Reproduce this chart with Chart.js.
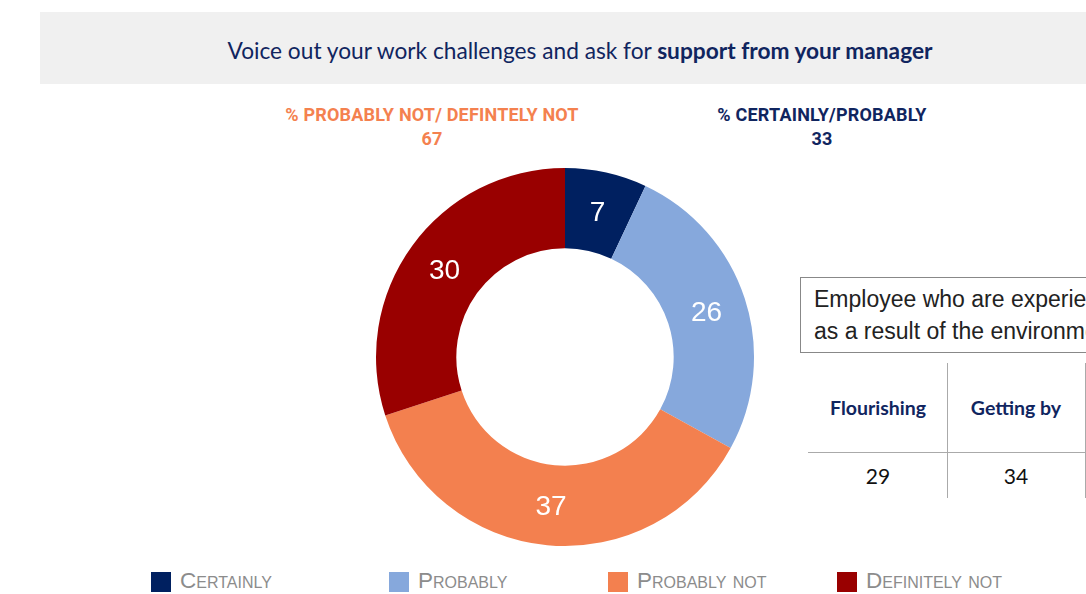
<!DOCTYPE html>
<html>
<head>
<meta charset="utf-8">
<script src="https://cdn.jsdelivr.net/npm/chart.js@4"></script>
<style>
  body { margin: 0; width: 1086px; height: 594px; position: relative; overflow: hidden; background: #fff; }
  .abs { position: absolute; white-space: nowrap; }
  #header { left: 40px; top: 12px; width: 1046px; height: 72px; background: #f0f0f0; }
  #title { left: 0; top: 50px; width: 1160px; text-align: center; font-family: Lato, "Noto Sans", sans-serif; font-size: 22.7px; color: #10255f; transform: translateY(-50%); }
  .sub { font-family: Roboto, sans-serif; font-weight: bold; font-size: 18px; letter-spacing: 0.2px; text-align: center; transform: translateX(-50%); line-height: 24px; }
  #boxText { left: 800px; top: 277px; width: 320px; height: 76px; border: 1px solid #888; font-family: "Liberation Sans", Arial, sans-serif; font-size: 23px; color: #222; line-height: 32px; padding: 5px 0 0 13px; box-sizing: border-box; }
  .th { font-family: Lato, "Noto Sans", sans-serif; font-weight: bold; font-size: 19.5px; color: #10255f; transform: translateX(-50%); }
  .td { font-family: Lato, "Noto Sans", sans-serif; font-size: 21px; color: #111; transform: translateX(-50%); }
  .vline { width: 1px; background: #aaa; }
  .hline { height: 1px; background: #aaa; }
  #legend .sw { position: absolute; width: 20px; height: 20px; top: 572px; }
  #legend .lt { position: absolute; top: 568px; font-family: "Liberation Sans", Arial, sans-serif; font-size: 22.5px; font-variant: small-caps; color: #8c8c8c; }
  #chartBox { position: absolute; left: 370px; top: 162px; width: 390px; height: 390px; }
</style>
</head>
<body>
<div id="header" class="abs"></div>
<div id="title" class="abs">Voice out your work challenges and ask for <b>support from your manager</b></div>

<div class="abs sub" style="left:432px; top:103px; color:#f4814f;">% PROBABLY NOT/ DEFINTELY NOT<br>67</div>
<div class="abs sub" style="left:822px; top:103px; color:#10255f;">% CERTAINLY/PROBABLY<br>33</div>

<div id="chartBox"><canvas id="donut"></canvas></div>

<div id="boxText" class="abs">Employee who are experiencing<br>as a result of the environment</div>

<div class="abs vline" style="left:947px; top:363px; height:135px;"></div>
<div class="abs vline" style="left:1085px; top:363px; height:135px;"></div>
<div class="abs hline" style="left:808px; top:452px; width:280px;"></div>
<div class="abs th" style="left:878px; top:396px;">Flourishing</div>
<div class="abs th" style="left:1016px; top:396px;">Getting by</div>
<div class="abs td" style="left:878px; top:463px;">29</div>
<div class="abs td" style="left:1016px; top:463px;">34</div>

<div id="legend"></div>

<script>
const categories = ['Certainly', 'Probably', 'Probably not', 'Definitely not'];
const values = [7, 26, 37, 30];
const colors = ['#002060', '#86a8dc', '#f3804f', '#990000'];
const legendX = [151, 389, 608, 837];

// legend
const legend = document.getElementById('legend');
categories.forEach(function(name, i) {
    const sw = document.createElement('div');
    sw.className = 'sw';
    sw.style.left = legendX[i] + 'px';
    sw.style.background = colors[i];
    legend.appendChild(sw);
    const lt = document.createElement('div');
    lt.className = 'lt';
    lt.style.left = (legendX[i] + 29) + 'px';
    lt.textContent = name;
    legend.appendChild(lt);
});

// numbers inside the slices
const sliceLabels = {
    id: 'sliceLabels',
    afterDatasetsDraw(chart) {
        const ctx = chart.ctx;
        const meta = chart.getDatasetMeta(0);
        ctx.save();
        ctx.fillStyle = '#ffffff';
        ctx.font = '28px "Liberation Sans", Arial, sans-serif';
        ctx.textAlign = 'center';
        ctx.textBaseline = 'middle';
        meta.data.forEach(function(arc, i) {
            const p = arc.tooltipPosition();
            ctx.fillText(chart.data.datasets[0].data[i], p.x, p.y + 2);
        });
        ctx.restore();
    }
};

new Chart(document.getElementById('donut'), {
    type: 'doughnut',
    data: {
        labels: categories,
        datasets: [{
            data: values,
            backgroundColor: colors,
            borderWidth: 0
        }]
    },
    options: {
        responsive: true,
        maintainAspectRatio: false,
        animation: false,
        cutout: '57.5%',
        layout: { padding: 6 },
        plugins: {
            legend: { display: false },
            tooltip: { enabled: false }
        }
    },
    plugins: [sliceLabels]
});
</script>
</body>
</html>
